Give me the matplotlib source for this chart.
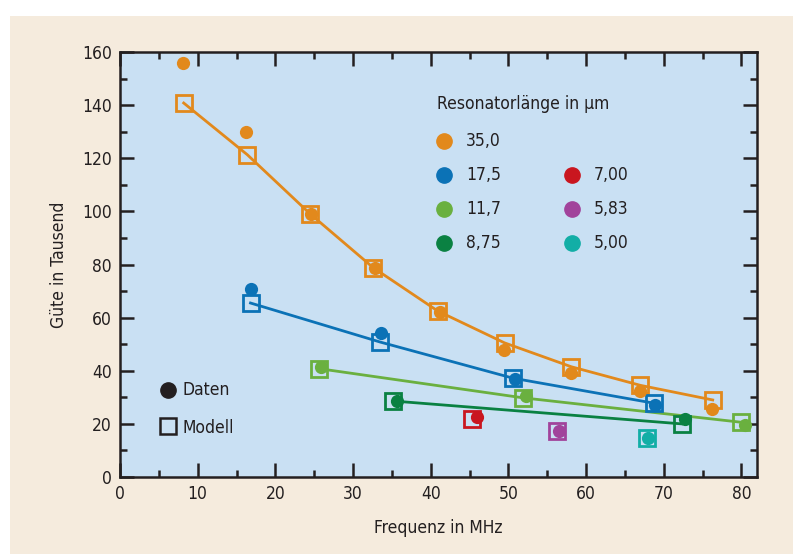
import matplotlib
matplotlib.use("Agg")
import matplotlib.pyplot as plt
from matplotlib.patches import Rectangle

# ---- data ----
series_names = ["35,0", "17,5", "11,7", "8,75", "7,00", "5,83", "5,00"]
series_colors = ["#e2891c", "#0b72b6", "#6ab03f", "#0a8142", "#c9161f", "#a1439b", "#12aea6"]

# Data (dots)
data_x_350 = [8.1, 16.2, 24.6, 32.8, 41.2, 49.4, 58.1, 67.0, 76.2]
data_y_350 = [156.0, 130.0, 99.0, 78.5, 62.0, 48.0, 39.0, 32.5, 25.5]
data_x_175 = [16.9, 33.6, 50.8, 68.9]
data_y_175 = [70.8, 54.2, 37.0, 27.0]
data_x_117 = [25.9, 52.3, 80.4]
data_y_117 = [41.5, 30.5, 19.5]
data_x_875 = [35.6, 72.7]
data_y_875 = [28.5, 22.0]
data_x_700 = [45.9]
data_y_700 = [22.5]
data_x_583 = [56.5]
data_y_583 = [17.5]
data_x_500 = [68.0]
data_y_500 = [14.8]

# Model (squares)
model_x_350 = [8.2, 16.4, 24.5, 32.6, 40.9, 49.5, 58.1, 67.0, 76.3]
model_y_350 = [140.8, 121.3, 99.0, 78.8, 62.5, 50.5, 41.5, 34.5, 29.0]
model_x_175 = [16.8, 33.5, 50.6, 68.7]
model_y_175 = [65.5, 50.8, 37.2, 27.8]
model_x_117 = [25.6, 51.9, 80.0]
model_y_117 = [40.8, 29.8, 20.6]
model_x_875 = [35.2, 72.3]
model_y_875 = [28.6, 20.0]
model_x_700 = [45.3]
model_y_700 = [21.8]
model_x_583 = [56.2]
model_y_583 = [17.3]
model_x_500 = [67.8]
model_y_500 = [14.5]

data_x = [data_x_350, data_x_175, data_x_117, data_x_875, data_x_700, data_x_583, data_x_500]
data_y = [data_y_350, data_y_175, data_y_117, data_y_875, data_y_700, data_y_583, data_y_500]
model_x = [model_x_350, model_x_175, model_x_117, model_x_875, model_x_700, model_x_583, model_x_500]
model_y = [model_y_350, model_y_175, model_y_117, model_y_875, model_y_700, model_y_583, model_y_500]

x_ticks = [0, 10, 20, 30, 40, 50, 60, 70, 80]
y_ticks = [0, 20, 40, 60, 80, 100, 120, 140, 160]

# ---- font ----
plt.rcParams["font.family"] = ["DejaVu Sans"]
plt.rcParams["font.stretch"] = "condensed"
txt = "#231f20"
FS = 12.5

W, H = 793, 554
fig = plt.figure(figsize=(W / 100, H / 100), dpi=100)
fig.patch.set_facecolor("white")
bg = fig.add_axes([0, 0, 1, 1], zorder=-10)
bg.set_axis_off()
bg.set_xlim(0, 1)
bg.set_ylim(0, 1)
bg.add_patch(Rectangle((10 / W, 0), 1 - 10 / W, (H - 16) / H, facecolor="#f5ebdd", edgecolor="none"))

ax = fig.add_axes([120 / W, (H - 477) / H, (757 - 120) / W, (477 - 52) / H])
ax.set_facecolor("#c9e0f3")
ax.set_xlim(0, 82)
ax.set_ylim(0, 160)

for i in range(len(series_names)):
    c = series_colors[i]
    if len(model_x[i]) > 1:
        ax.plot(model_x[i], model_y[i], color=c, lw=2.0, zorder=2)
    ax.plot(model_x[i], model_y[i], ls="none", marker="s", ms=12, mfc="none", mec=c, mew=2.0, zorder=3)
    ax.plot(data_x[i], data_y[i], ls="none", marker="o", ms=9.5, mfc=c, mec="none", zorder=4)

for s in ax.spines.values():
    s.set_linewidth(1.8)
    s.set_color(txt)

ax.set_xticks(x_ticks)
ax.set_yticks(y_ticks)
ax.set_xticks([5, 15, 25, 35, 45, 55, 65, 75], minor=True)
ax.set_yticks([10, 30, 50, 70, 90, 110, 130, 150], minor=True)
ax.tick_params(which="major", direction="in", length=10, width=1.8, color=txt,
               top=True, right=True, labelsize=FS, labelcolor=txt, pad=6)
ax.tick_params(which="minor", direction="in", length=5, width=1.8, color=txt, top=True, right=True)

ax.set_xlabel("Frequenz in MHz", fontsize=FS, color=txt, labelpad=11)
ax.set_ylabel("Güte in Tausend", fontsize=FS, color=txt, labelpad=10)

def px2data(px, py):
    return ax.transData.inverted().transform(ax.transAxes.transform(
        ((px - 120) / (757 - 120), (477 - py) / (477 - 52))))

ax.text(*px2data(437, 104), "Resonatorlänge in µm", fontsize=FS, color=txt, va="center", ha="left")
col1 = [0, 1, 2, 3]
col2 = [4, 5, 6]
rows_y = [141, 175, 209, 243]
for r, i in enumerate(col1):
    ax.plot(*px2data(444, rows_y[r]), marker="o", ms=11, color=series_colors[i], ls="none", zorder=5)
    ax.text(*px2data(466, rows_y[r]), series_names[i], fontsize=FS, color=txt, va="center")
for r, i in enumerate(col2):
    ax.plot(*px2data(572, rows_y[r + 1]), marker="o", ms=11, color=series_colors[i], ls="none", zorder=5)
    ax.text(*px2data(594, rows_y[r + 1]), series_names[i], fontsize=FS, color=txt, va="center")

ax.plot(*px2data(168, 390), marker="o", ms=11, color=txt, ls="none")
ax.text(*px2data(183, 390), "Daten", fontsize=FS, color=txt, va="center")
ax.plot(*px2data(168, 426), marker="s", ms=12, mfc="none", mec=txt, mew=1.8, ls="none")
ax.text(*px2data(183, 428), "Modell", fontsize=FS, color=txt, va="center")

fig.savefig("out.png", dpi=100)
